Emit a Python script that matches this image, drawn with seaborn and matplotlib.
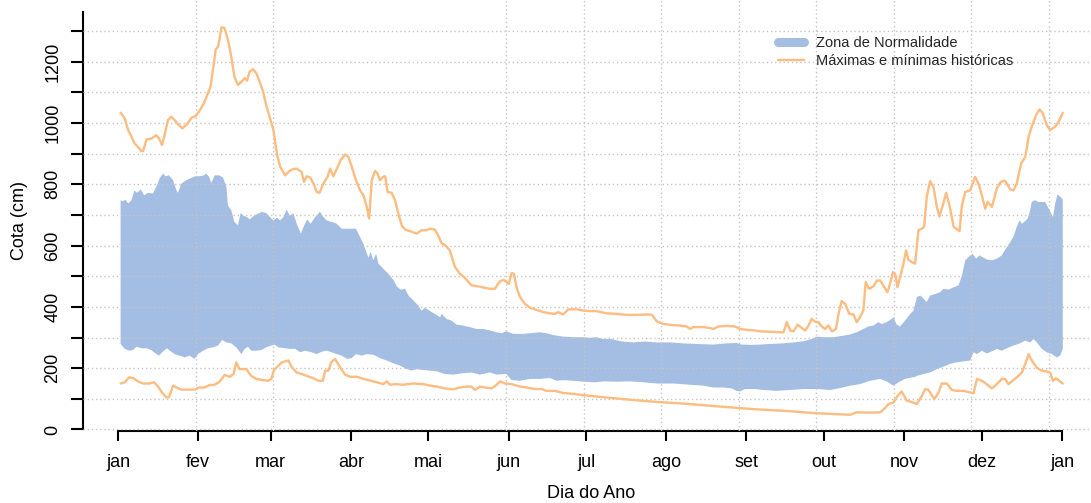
import numpy as np
import pandas as pd
import matplotlib
matplotlib.use("Agg")
import matplotlib.pyplot as plt
import seaborn as sns
from matplotlib.lines import Line2D
from matplotlib.ticker import FixedLocator, FixedFormatter

# ---------------- data ----------------
month_days = [1, 32, 60, 91, 121, 152, 182, 213, 244, 274, 305, 335, 366]
month_labels = ['jan', 'fev', 'mar', 'abr', 'mai', 'jun', 'jul', 'ago', 'set', 'out', 'nov', 'dez', 'jan']
grid_days = list(range(1, 362, 30))
y_ticks = list(range(0, 1301, 100))
y_labels = ['0', '', '200', '', '400', '', '600', '', '800', '', '1000', '', '1200', '']

max_days = [2, 3.6, 4.9, 6.2, 7.4, 8.7, 10, 10.7, 12, 13.9, 15.8, 16.9, 18, 19, 20.3, 21.6, 22.9, 24.2, 25.9, 27.7,
            29.4, 31, 32.6, 34.2, 35.5, 36.8, 37.7, 38.8, 39.7, 40.3, 41, 42.2, 43.5, 44.8, 46, 47.4, 48.7, 50, 50.9,
            51.9, 53.2, 54.5, 55.8, 57.1, 58.3, 59.6, 61.1, 62.4, 63.7, 65.6, 66.9, 68.2, 70.1, 72, 72.9, 74, 75.3,
            76.6, 77.8, 78.9, 80.4, 82, 83, 84.3, 85.6, 87.1, 88.8, 90.1, 91.4, 93, 94.6, 95.9, 97.2, 98.1, 99.1,
            100.4, 101.3, 102.3, 103.4, 104.3, 105.2, 106.8, 108.1, 109.4, 110.7, 112, 113.9, 116.5, 118.4, 120.4,
            121.6, 123.5, 124.8, 126.1, 128, 129.3, 131.3, 133.2, 135.1, 137.7, 140.3, 142.9, 144.8, 146.7, 148.7,
            150.2, 152.1, 153.2, 154.1, 155.1, 156.4, 158.3, 160.3, 162.8, 165.4, 168, 169.9, 171.2, 173.1, 175.1,
            178.3, 180.9, 183.5, 186.1, 189.9, 193.8, 197.7, 201.5, 205.4, 207.3, 209.3, 211.9, 215.1, 218.3, 220.9,
            222.2, 223.4, 227.3, 229.9, 231.2, 233.1, 236.3, 239.6, 241.5, 244.1, 247.3, 249.3, 253.1, 257, 258.3,
            259.6, 260.9, 262.2, 263.8, 265.4, 266.7, 268, 269.2, 270.5, 271.8, 273.1, 274.4, 275.7, 277, 278.6,
            279.6, 280.8, 282.1, 283.8, 285.4, 286.6, 287.9, 289.2, 290.1, 291.4, 293.1, 294.4, 295.7, 296.9, 298.5,
            299.5, 300.6, 301.5, 302.4, 303.4, 304.7, 305.7, 306.6, 307.9, 309.2, 310.5, 311.8, 312.7, 313.7, 315,
            316.3, 317.6, 318.6, 319.9, 321.2, 322.5, 324.1, 326.4, 327.3, 328.6, 330.5, 332.4, 333.7, 335, 336.3,
            337.3, 338.9, 340.8, 342.3, 344, 346, 347.2, 348.5, 350.2, 351.8, 353.1, 354.3, 356, 357.3, 358.6,
            360.1, 361.4, 363.4, 364.7, 366.3]
max_vals = [1033, 1015, 977, 955, 933, 922, 908, 908, 946, 949, 960, 949, 928, 960, 1009, 1020, 1009, 996, 982, 996,
            1017, 1022, 1040, 1064, 1091, 1118, 1173, 1240, 1249, 1276, 1312, 1309, 1271, 1216, 1151, 1124, 1134, 1146,
            1138, 1167, 1175, 1162, 1134, 1102, 1058, 1020, 977, 900, 857, 829, 840, 848, 851, 840, 808, 826, 822,
            802, 775, 772, 802, 824, 851, 826, 851, 879, 897, 889, 857, 813, 780, 764, 726, 688, 813,
            844, 835, 813, 824, 826, 775, 772, 748, 704, 666, 652, 647, 639, 650, 650,
            655, 652, 633, 608, 597, 584, 530, 508, 495, 470, 467, 462, 459, 459, 484,
            488, 475, 510, 508, 464, 432, 410, 397, 390, 383, 379, 377, 383, 375, 392,
            392, 388, 386, 386, 379, 377, 374, 374, 375, 375, 353, 344, 341, 339, 336,
            328, 334, 334, 331, 328, 336, 338, 336, 328, 325, 323, 320, 319, 317, 317,
            350, 323, 320, 342, 331, 323, 339, 361, 352, 350, 336, 328, 339, 320, 328,
            377, 419, 410, 377, 375, 350, 366, 388, 481, 459, 467, 486, 486, 470, 448,
            475, 513, 508, 464, 497, 541, 584, 554, 546, 541, 650, 655, 661, 759, 810,
            791, 726, 695, 731, 772, 731, 661, 647, 731, 775, 780, 824, 802, 764, 720,
            742, 726, 786, 808, 811, 783, 780, 802, 868, 889, 955, 988, 1026, 1044, 1031,
            993, 977, 988, 1004, 1033]

min_days = [2, 3.6, 5.3, 6.8, 8.7, 10.7, 13.2, 14.9, 16.5, 18, 19.7, 20.7, 22.3, 23.6, 25.5, 28.1, 30.6, 32.3, 34.5,
            36.4, 38.4, 40.3, 42.2, 44.2, 45.7, 46.7, 48, 49.3, 50.6, 52.5, 54.5, 57.1, 59, 60.3, 61.3, 62.4, 64.3,
            66.9, 68.2, 70.1, 72, 74, 76.6, 78.5, 80.2, 81.1, 82.4, 83.4, 84.9, 86.9, 88.8, 90.7, 93.3, 95.9, 99.7,
            103.6, 104.9, 106.2, 108.1, 111.3, 115.2, 119.1, 121.7, 124.2, 127.4, 130.6, 133.2, 135.8, 137.7, 139,
            140.9, 142.9, 145.4, 147.4, 148.7, 150.6, 153.2, 156.4, 159, 162.2, 164.8, 166.7, 169.9, 173.1, 177,
            180.9, 185.4, 196.4, 209.3, 222.2, 235, 247.3, 258.3, 271.2, 284.1, 286.6, 291.8, 295.7, 297.6, 298.9,
            300.8, 302.5, 304, 306, 308.5, 309.9, 311.8, 313.1, 314.4, 316.6, 318.3, 319.5, 321.5, 323.4, 325.3,
            327.9, 330.5, 331.8, 333.1, 335, 336.9, 338.9, 340.8, 342.7, 344, 345.3, 346.6, 348.5, 350.5, 351.8,
            353.1, 354.3, 356.3, 358.2, 360.1, 361.4, 362.5, 363.7, 366.3]
min_vals = [150, 154, 170, 168, 157, 150, 150, 154, 140, 121, 105, 105, 143, 137, 130, 130, 130, 137, 137,
            145, 146, 156, 178, 172, 181, 219, 197, 197, 197, 175, 165, 161, 159, 165, 194, 203, 219,
            225, 203, 186, 181, 175, 167, 159, 159, 192, 192, 219, 230, 203, 179, 172, 172, 165, 157,
            148, 157, 146, 148, 146, 150, 148, 143, 140, 134, 131, 137, 140, 140, 129,
            140, 137, 134, 146, 157, 150, 148, 140, 137, 132, 132, 126, 126, 119, 116,
            112, 108, 99, 90, 83, 74, 66, 61, 53, 48, 56, 55, 56, 70, 83,
            88, 110, 124, 94, 88, 83, 110, 132, 129, 99, 121, 150, 150, 129, 126,
            126, 121, 118, 165, 159, 148, 134, 148, 165, 165, 148, 157, 170, 186, 214,
            246, 225, 201, 192, 189, 186, 159, 167, 150]

upper_days = [2, 2.9, 3.9, 4.9, 6.2, 7.4, 8.3, 9.8, 11.1, 12.6, 14.5, 15.8, 17.1, 18.4, 19.4, 20.7, 22.3, 23.6, 24.2,
              25.5, 27.4, 29.4, 31, 32.6, 34.2, 35.1, 36.2, 37.1, 38.4, 40.1, 41.6, 42.9, 43.5, 44.8, 46, 47.4, 48.4,
              49.6, 50.9, 51.9, 53.5, 55.1, 56.8, 58.3, 59.8, 61.1, 62.4, 63.7, 65, 66.2, 67.5, 68.8, 70.1, 71.7, 73,
              74.2, 75.5, 77.2, 79.1, 80.4, 81.7, 83.6, 85.6, 87.5, 89.4, 91.4, 93, 94.6, 96.1, 97.8, 98.7, 99.7,
              100.8, 101.7, 103.6, 105.5, 107.5, 108.8, 110.3, 112, 113.3, 115.2, 117.1, 118.4, 119.7, 121.7, 123.5,
              125.5, 126.1, 128, 130, 131.9, 134.5, 137.1, 139.6, 142.2, 144.8, 147.4, 149.3, 151.2, 153.8, 157.7,
              161.6, 164.1, 166.7, 169.3, 173.1, 177, 180.9, 183.5, 186.1, 188.7, 191.9, 195.1, 200.3, 204.8, 209.3,
              214.4, 219.6, 224.7, 231.2, 236.3, 240.2, 242.1, 245.4, 249.3, 253.1, 258.3, 262.2, 266, 269.2, 271.2,
              273.8, 277.6, 281.5, 284.1, 286.6, 289.2, 291.1, 293.1, 295, 296.3, 298.2, 300.2, 300.8, 302.1, 303.4,
              305.3, 307.3, 308.6, 309.9, 311.2, 312.5, 313.7, 315, 317, 318.9, 320.2, 322.1, 324.1, 326, 327.3,
              328.6, 330.2, 331.5, 332.8, 334.1, 335.7, 337.2, 338.9, 340.8, 342.7, 344.7, 346, 347.2, 348.5, 349.6,
              350.5, 351.4, 352.7, 353.7, 354.3, 355.6, 356.9, 358.2, 359.5, 361.2, 362.5, 363.4, 364.3, 365.3, 366.3]
upper_vals = [748, 744, 750, 737, 748, 780, 772, 783, 764, 772, 770, 791, 819, 835, 826, 829, 813, 780, 772,
              802, 813, 821, 826, 826, 829, 835, 824, 804, 829, 829, 822, 791, 731, 715, 677, 666, 706,
              697, 693, 685, 697, 704, 710, 706, 693, 682, 691, 682, 693, 717, 697, 706, 671, 639, 666,
              685, 671, 693, 710, 693, 682, 677, 671, 655, 655, 655, 655, 628, 601, 560, 579, 552,
              573, 541, 524, 508, 488, 467, 456, 459, 437, 421, 404, 388, 397, 386, 377,
              366, 377, 361, 355, 342, 339, 334, 328, 328, 323, 317, 314, 320, 312, 312,
              315, 317, 314, 308, 303, 301, 301, 299, 301, 295, 295, 288, 284, 287, 284,
              284, 281, 279, 277, 281, 282, 277, 276, 277, 279, 281, 284, 288, 295, 303,
              301, 301, 306, 310, 317, 328, 336, 339, 350, 344, 350, 361, 366, 342, 336,
              355, 377, 388, 432, 437, 426, 415, 437, 442, 448, 459, 456, 464, 470, 502,
              552, 565, 573, 557, 568, 560, 554, 552, 557, 568, 595, 611, 628, 661, 682,
              671, 677, 688, 715, 742, 748, 742, 742, 742, 715, 693, 739, 767, 759, 751]

lower_days = [2, 3.6, 5.3, 6.8, 8.1, 10, 12, 13.9, 15.2, 16.9, 18.4, 20, 21, 22.9, 24.8, 26.8, 28.7, 30.6, 31.9, 33.9,
              35.8, 37.7, 39.7, 41.3, 42.9, 44.8, 46.7, 48.7, 50, 51.2, 52.5, 54.5, 56.4, 58.3, 60.3, 61.6, 63, 65.6,
              67.5, 69.5, 71.4, 73.3, 75.9, 77.8, 79.8, 81.7, 83.6, 85.6, 87.5, 89.7, 91.4, 93, 95.2, 97.2, 99.7,
              102.3, 104.9, 107.5, 110.1, 112.6, 114.6, 116.5, 119.1, 121.7, 124.2, 127.4, 130.6, 133.8, 137.7, 140.9,
              144.8, 147.4, 151.2, 153.2, 156.4, 160.3, 164.1, 168, 170.6, 173.1, 177, 180.9, 185.4, 188.7, 193.8,
              199, 204.1, 209.3, 215.7, 222.2, 227.3, 231.2, 235, 238.3, 240.2, 241.5, 243.4, 247.3, 250.6, 255.7,
              260.9, 266, 271.2, 276.3, 280.2, 284.1, 287.9, 291.8, 295.7, 298.2, 300.8, 302.8, 305.3, 309.2, 309.9,
              312.5, 315, 317.6, 320.2, 322.7, 325.3, 328.6, 330.5, 331.8, 333.1, 335, 336.9, 338.9, 340.8, 342.7,
              344.7, 347.2, 349.8, 351.7, 353.7, 355, 356.3, 358.2, 360.1, 362.1, 364, 365.3, 366.3]
lower_vals = [279, 263, 257, 259, 270, 265, 265, 259, 250, 241, 255, 265, 257, 246, 241, 235, 241, 230, 246, 257,
              265, 268, 274, 292, 284, 281, 268, 246, 263, 270, 257, 257, 259, 268, 274, 277, 268, 265,
              263, 263, 252, 257, 252, 246, 254, 257, 252, 246, 241, 230, 233, 246, 241, 246, 244,
              233, 225, 216, 208, 197, 192, 197, 194, 192, 190, 181, 179, 183, 186, 179,
              186, 179, 181, 161, 159, 165, 165, 168, 159, 161, 159, 156, 154, 157, 156,
              157, 154, 150, 150, 146, 143, 137, 137, 134, 126, 124, 132, 132, 129, 126,
              129, 132, 132, 129, 135, 143, 148, 159, 165, 157, 143, 154, 165, 172, 175,
              181, 186, 197, 205, 214, 219, 223, 225, 252, 246, 257, 248, 255, 263, 257,
              265, 274, 281, 290, 284, 295, 284, 263, 252, 246, 235, 241, 263]

legend_labels = ['Zona de Normalidade', 'Máximas e mínimas históricas']

# ---------------- style ----------------
band_color = '#A4BDE3'
line_color = '#FDBC80'
grid_color = '#C4C4C4'

sns.set_theme(style="white")
plt.rcParams['font.family'] = ['Liberation Sans', 'DejaVu Sans']

W, H = 1091, 503
fig = plt.figure(figsize=(W / 100, H / 100), dpi=100)
ax = fig.add_axes([83 / W, 72 / H, (W - 83) / W, 431 / H])

# band (polygon: upper forward, lower backward)
poly_x = list(upper_days) + list(lower_days[::-1])
poly_y = list(upper_vals) + list(lower_vals[::-1])
ax.fill(poly_x, poly_y, color=band_color, lw=0, zorder=1)

# historical extremes
df_max = pd.DataFrame({'dia': max_days, 'cota': max_vals})
df_min = pd.DataFrame({'dia': min_days, 'cota': min_vals})
sns.lineplot(data=df_max, x='dia', y='cota', ax=ax, color=line_color, lw=1.7,
             estimator=None, sort=False, legend=False, zorder=3)
sns.lineplot(data=df_min, x='dia', y='cota', ax=ax, color=line_color, lw=1.7,
             estimator=None, sort=False, legend=False, zorder=3)

# limits
ax.set_xlim(1 - 35 / 2.586, 366 + 29 / 2.586)
ax.set_ylim(-4.9, 1401)

# ticks
ax.xaxis.set_major_locator(FixedLocator(month_days))
ax.xaxis.set_major_formatter(FixedFormatter(month_labels))
ax.xaxis.set_minor_locator(FixedLocator(grid_days))
ax.yaxis.set_major_locator(FixedLocator(y_ticks))
ax.yaxis.set_major_formatter(FixedFormatter(y_labels[:len(y_ticks)]))

ax.tick_params(axis='x', which='major', length=7.5, width=1.5, pad=9, labelsize=13, colors='black',
               bottom=True)
ax.tick_params(axis='x', which='minor', length=0, bottom=False)
ax.tick_params(axis='y', which='major', length=8.5, width=1.5, pad=7, labelsize=13, colors='black',
               left=True)
for lab in ax.get_yticklabels():
    lab.set_rotation(90)
    lab.set_va('center')
    lab.set_ha('right')

# grid
ax.set_axisbelow(False)
ax.xaxis.grid(True, which='minor', linestyle=(0, (1, 2)), color=grid_color, lw=1)
ax.xaxis.grid(False, which='major')
ax.yaxis.grid(True, which='major', linestyle=(0, (1, 2)), color=grid_color, lw=1)

# spines
for s in ['top', 'right']:
    ax.spines[s].set_visible(False)
ax.spines['left'].set_color('black')
ax.spines['left'].set_linewidth(1.5)
ax.spines['left'].set_bounds(0, 1362)
ax.spines['bottom'].set_color('black')
ax.spines['bottom'].set_linewidth(1.5)
ax.spines['bottom'].set_bounds(1, 366)

# labels
ax.set_xlabel('Dia do Ano', fontsize=13, color='black')
ax.set_ylabel('Cota (cm)', fontsize=13, color='black')
ax.xaxis.set_label_coords((591 - 83) / (W - 83), (431 - 493) / 431)
ax.xaxis.label.set_va('center')
ax.yaxis.set_label_coords((20 - 83) / (W - 83), (431 - 221) / 431)
ax.yaxis.label.set_va('center')

# legend
handles = [Line2D([0], [0], color=band_color, lw=6.5, solid_capstyle='round'),
           Line2D([0], [0], color=line_color, lw=1.7)]
fig.legend(handles, legend_labels, loc='upper left', bbox_to_anchor=(778 / W, 1 - 36 / H),
           frameon=False, fontsize=10.5, handlelength=1.8, handletextpad=0.8,
           labelspacing=0.25, borderpad=0, borderaxespad=0)

fig.savefig('out.png', dpi=100)
